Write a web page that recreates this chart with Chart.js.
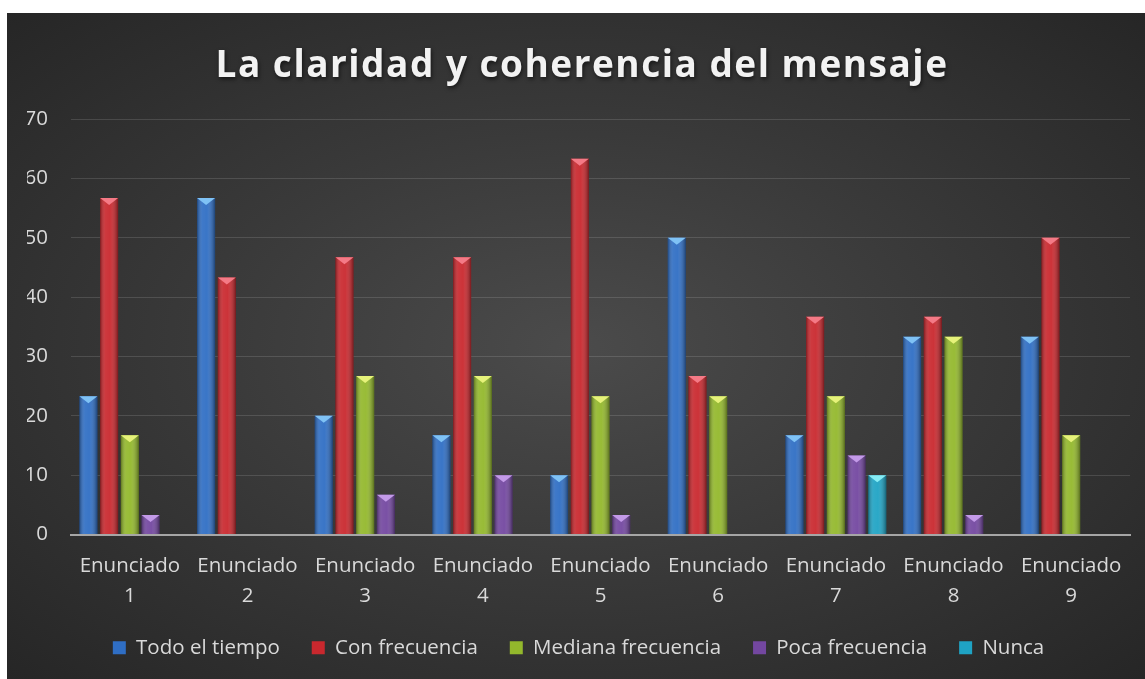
<!DOCTYPE html>
<html>
<head>
<meta charset="utf-8">
<script src="https://cdn.jsdelivr.net/npm/chart.js@4"></script>
<style>
  html, body { margin: 0; padding: 0; background: #fff; }
  #box {
    position: absolute; left: 7px; top: 13px; width: 1138px; height: 666px;
    background: radial-gradient(ellipse at 50% 50%, #4b4b4b 0%, #3a3a3a 45%, #262626 100%);
  }
  canvas { display: block; }
</style>
</head>
<body>
<div id="box"><canvas id="chart" width="1138" height="666"></canvas></div>
<script>
// data (percent of answers)
const categories = [
  ["Enunciado", "1"], ["Enunciado", "2"], ["Enunciado", "3"],
  ["Enunciado", "4"], ["Enunciado", "5"], ["Enunciado", "6"],
  ["Enunciado", "7"], ["Enunciado", "8"], ["Enunciado", "9"]
];
const todoElTiempo      = [23.3, 56.7, 20.0, 16.7, 10.0, 50.0, 16.7, 33.3, 33.3];
const conFrecuencia     = [56.7, 43.3, 46.7, 46.7, 63.3, 26.7, 36.7, 36.7, 50.0];
const medianaFrecuencia = [16.7, 0, 26.7, 26.7, 23.3, 23.3, 23.3, 33.3, 16.7];
const pocaFrecuencia    = [3.3, 0, 6.7, 10.0, 3.3, 0, 13.3, 3.3, 0];
const nunca             = [0, 0, 0, 0, 0, 0, 10.0, 0, 0];
const yTicks = [0, 10, 20, 30, 40, 50, 60, 70];

const TEXT = "#d9d9d9";
const FONT = "'Open Sans', 'DejaVu Sans', sans-serif";

// bar colour + lighter colour for the little top face
const colors = ["#2f6ec4", "#c9282e", "#93b82c", "#7347a0", "#1fa3c4"];
const caps   = ["#7fc2f5", "#f47a86", "#e6f27a", "#c39ae8", "#86ecf5"];

// shading and triangle cap like the 3D excel bars
const barLook = {
  id: "barLook",
  afterDatasetsDraw(chart) {
    const ctx = chart.ctx;
    chart.data.datasets.forEach((ds, di) => {
      const meta = chart.getDatasetMeta(di);
      meta.data.forEach((bar) => {
        const p = bar.getProps(["x", "y", "base", "width"], true);
        const h = p.base - p.y;
        if (h < 1) return;
        const l = p.x - p.width / 2, r = p.x + p.width / 2;
        const g = ctx.createLinearGradient(l, 0, r, 0);
        g.addColorStop(0, "rgba(0,0,0,0.35)");
        g.addColorStop(0.3, "rgba(255,255,255,0.08)");
        g.addColorStop(0.55, "rgba(255,255,255,0.05)");
        g.addColorStop(1, "rgba(0,0,0,0.4)");
        ctx.save();
        ctx.fillStyle = g;
        ctx.fillRect(l, p.y, p.width, h);
        const capH = Math.min(7, h);
        ctx.fillStyle = caps[di];
        ctx.beginPath();
        ctx.moveTo(l, p.y);
        ctx.lineTo(r, p.y);
        ctx.lineTo(p.x, p.y + capH);
        ctx.closePath();
        ctx.fill();
        ctx.restore();
      });
    });
  }
};

// spaced out title with a soft shadow
const spacedTitle = {
  id: "spacedTitle",
  afterDraw(chart) {
    const ctx = chart.ctx;
    ctx.save();
    ctx.font = "bold 37px " + FONT;
    ctx.letterSpacing = "1.5px";
    ctx.fillStyle = "#f2f2f2";
    ctx.textAlign = "center";
    ctx.textBaseline = "middle";
    ctx.shadowColor = "rgba(0,0,0,0.6)";
    ctx.shadowBlur = 4;
    ctx.shadowOffsetX = 1;
    ctx.shadowOffsetY = 2;
    ctx.fillText("La claridad y coherencia del mensaje", chart.width / 2 + 6, 53);
    ctx.restore();
  }
};

const names = ["Todo el tiempo", "Con frecuencia", "Mediana frecuencia", "Poca frecuencia", "Nunca"];
const series = [todoElTiempo, conFrecuencia, medianaFrecuencia, pocaFrecuencia, nunca];

new Chart(document.getElementById("chart"), {
  type: "bar",
  data: {
    labels: categories,
    datasets: series.map((s, i) => ({
      label: names[i],
      data: s,
      backgroundColor: colors[i],
      borderWidth: 0,
      categoryPercentage: 0.88,
      barPercentage: 0.87
    }))
  },
  options: {
    responsive: false,
    animation: false,
    layout: { padding: { top: 106, right: 15, left: 20, bottom: 11 } },
    scales: {
      x: {
        grid: { display: false },
        border: { display: true, color: "#a6a6a6", width: 2 },
        ticks: { color: TEXT, font: { family: FONT, size: 20.5, lineHeight: 1.46 }, padding: 9, maxRotation: 0 },
        afterFit: (s) => { s.height = 71; }
      },
      y: {
        min: 0, max: 70,
        afterBuildTicks: (s) => { s.ticks = yTicks.map((v) => ({ value: v })); },
        grid: { color: "rgba(255,255,255,0.13)", lineWidth: 1, drawTicks: false },
        border: { display: false },
        ticks: { color: TEXT, font: { family: FONT, size: 20.5 }, padding: 23 },
        afterFit: (s) => { s.width = 44; }
      }
    },
    plugins: {
      title: { display: false },
      tooltip: { enabled: false },
      legend: {
        position: "bottom",
        labels: {
          color: TEXT,
          font: { family: FONT, size: 20.5 },
          boxWidth: 13,
          boxHeight: 13,
          padding: 32
        }
      }
    }
  },
  plugins: [barLook, spacedTitle]
});
</script>
</body>
</html>
